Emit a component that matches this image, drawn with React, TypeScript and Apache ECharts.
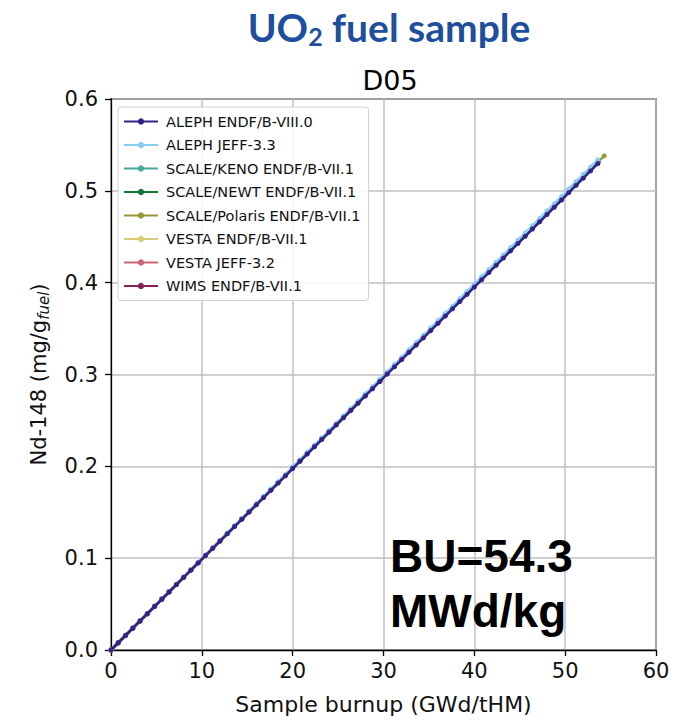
import React, { useEffect, useRef } from "react";
import * as echarts from "echarts";

const burnup = [
  0, 0.8, 1.6, 2.4, 3.2, 4.0, 4.8, 5.6, 6.4, 7.2, 8.0, 8.8, 9.6, 10.4, 11.2, 12.0,
  12.8, 13.6, 14.4, 15.2, 16.0, 16.8, 17.6, 18.4, 19.2, 20.0, 20.8, 21.6, 22.4, 23.2,
  24.0, 24.8, 25.6, 26.4, 27.2, 28.0, 28.8, 29.6, 30.4, 31.2, 32.0, 32.8, 33.6, 34.4,
  35.2, 36.0, 36.8, 37.6, 38.4, 39.2, 40.0, 40.8, 41.6, 42.4, 43.2, 44.0, 44.8, 45.6,
  46.4, 47.2, 48.0, 48.8, 49.6, 50.4, 51.2, 52.0, 52.8, 53.6,
];

const burnupPolaris = [
  0, 0.8, 1.6, 2.4, 3.2, 4.0, 4.8, 5.6, 6.4, 7.2, 8.0, 8.8, 9.6, 10.4, 11.2, 12.0,
  12.8, 13.6, 14.4, 15.2, 16.0, 16.8, 17.6, 18.4, 19.2, 20.0, 20.8, 21.6, 22.4, 23.2,
  24.0, 24.8, 25.6, 26.4, 27.2, 28.0, 28.8, 29.6, 30.4, 31.2, 32.0, 32.8, 33.6, 34.4,
  35.2, 36.0, 36.8, 37.6, 38.4, 39.2, 40.0, 40.8, 41.6, 42.4, 43.2, 44.0, 44.8, 45.6,
  46.4, 47.2, 48.0, 48.8, 49.6, 50.4, 51.2, 52.0, 52.8, 53.6, 54.3,
];

const ndLow = [
  0, 0.0079, 0.0158, 0.0237, 0.0316, 0.0395, 0.0474, 0.0553, 0.0632, 0.0711, 0.079,
  0.0869, 0.0948, 0.1028, 0.1107, 0.1186, 0.1265, 0.1344, 0.1423, 0.1502, 0.1581,
  0.166, 0.1739, 0.1818, 0.1897, 0.1976, 0.2055, 0.2134, 0.2213, 0.2292, 0.2371,
  0.245, 0.2529, 0.2608, 0.2687, 0.2766, 0.2845, 0.2924, 0.3004, 0.3083, 0.3162,
  0.3241, 0.332, 0.3399, 0.3478, 0.3557, 0.3636, 0.3715, 0.3794, 0.3873, 0.3952,
  0.4031, 0.411, 0.4189, 0.4268, 0.4347, 0.4426, 0.4505, 0.4584, 0.4663, 0.4742,
  0.4821, 0.49, 0.498, 0.5059, 0.5138, 0.5217, 0.5296,
];

const ndMid = [
  0, 0.0079, 0.0159, 0.0238, 0.0317, 0.0396, 0.0476, 0.0555, 0.0634, 0.0714, 0.0793,
  0.0872, 0.0951, 0.1031, 0.111, 0.1189, 0.1268, 0.1348, 0.1427, 0.1506, 0.1586,
  0.1665, 0.1744, 0.1823, 0.1903, 0.1982, 0.2061, 0.2141, 0.222, 0.2299, 0.2378,
  0.2458, 0.2537, 0.2616, 0.2696, 0.2775, 0.2854, 0.2933, 0.3013, 0.3092, 0.3171,
  0.325, 0.333, 0.3409, 0.3488, 0.3568, 0.3647, 0.3726, 0.3805, 0.3885, 0.3964,
  0.4043, 0.4123, 0.4202, 0.4281, 0.436, 0.444, 0.4519, 0.4598, 0.4678, 0.4757,
  0.4836, 0.4915, 0.4995, 0.5074, 0.5153, 0.5232, 0.5312, 0.5381,
];

const ndHigh = [
  0, 0.008, 0.0159, 0.0239, 0.0319, 0.0398, 0.0478, 0.0558, 0.0637, 0.0717, 0.0797,
  0.0876, 0.0956, 0.1036, 0.1116, 0.1195, 0.1275, 0.1355, 0.1434, 0.1514, 0.1594,
  0.1673, 0.1753, 0.1833, 0.1912, 0.1992, 0.2072, 0.2151, 0.2231, 0.2311, 0.239,
  0.247, 0.255, 0.2629, 0.2709, 0.2789, 0.2868, 0.2948, 0.3028, 0.3108, 0.3187,
  0.3267, 0.3347, 0.3426, 0.3506, 0.3586, 0.3665, 0.3745, 0.3825, 0.3904, 0.3984,
  0.4064, 0.4143, 0.4223, 0.4303, 0.4382, 0.4462, 0.4542, 0.4621, 0.4701, 0.4781,
  0.486, 0.494, 0.502, 0.51, 0.5179, 0.5259, 0.5339,
];

const seriesNames = [
  "ALEPH ENDF/B-VIII.0",
  "ALEPH JEFF-3.3",
  "SCALE/KENO ENDF/B-VII.1",
  "SCALE/NEWT ENDF/B-VII.1",
  "SCALE/Polaris ENDF/B-VII.1",
  "VESTA ENDF/B-VII.1",
  "VESTA JEFF-3.2",
  "WIMS ENDF/B-VII.1",
];

const seriesColors = [
  "#332288",
  "#88CCEE",
  "#44AA99",
  "#117733",
  "#999933",
  "#DDCC77",
  "#CC6677",
  "#882255",
];

const seriesX = [burnup, burnup, burnup, burnup, burnupPolaris, burnup, burnup, burnup];
const seriesY = [ndLow, ndHigh, ndMid, ndMid, ndMid, ndMid, ndMid, ndMid];
// drawing order: the two ALEPH curves sit on top of the others
const seriesZ = [5, 4, 2, 2, 2, 2, 2, 2];

const FONT = "DejaVu Sans";

export default function App() {
  const ref = useRef<HTMLDivElement>(null);
  useEffect(() => {
    document.body.style.margin = "0";
    const chart = echarts.init(ref.current!, null, { renderer: "svg" });
    const series = seriesNames.map((name, i) => ({
      name,
      type: "line",
      z: seriesZ[i],
      data: seriesX[i].map((x, j) => [x, seriesY[i][j]]),
      symbol: "circle",
      symbolSize: 5,
      showSymbol: true,
      lineStyle: { color: seriesColors[i], width: 2.5 },
      itemStyle: { color: seriesColors[i] },
      emphasis: { disabled: true },
    }));
    chart.setOption({
      animation: false,
      backgroundColor: "#ffffff",
      title: [
        {
          text: "{a|UO}{s|2}{a| fuel sample}",
          left: 384,
          textAlign: "center",
          top: 1,
          textStyle: {
            rich: {
              a: { fontFamily: "Lato", fontWeight: "bold", fontSize: 39, color: "#1d4f9c" },
              s: {
                fontFamily: "Lato",
                fontWeight: "bold",
                fontSize: 25,
                color: "#1d4f9c",
                verticalAlign: "bottom",
                padding: [17, 0, 0, 0],
              },
            },
          },
        },
        {
          text: "D05",
          left: 385,
          textAlign: "center",
          top: 62,
          textStyle: { fontFamily: FONT, fontWeight: "normal", fontSize: 27, color: "#000" },
        },
      ],
      grid: {
        left: 111,
        right: 24,
        top: 99,
        bottom: 65,
        show: true,
        borderColor: "#000",
        borderWidth: 1.3,
        backgroundColor: "transparent",
      },
      legend: {
        orient: "vertical",
        left: 118,
        top: 107,
        padding: [7, 8, 7, 5],
        itemWidth: 34,
        itemHeight: 8,
        itemGap: 8.5,
        backgroundColor: "rgba(255,255,255,0.85)",
        borderColor: "#d0d0d0",
        borderWidth: 1,
        borderRadius: 3,
        textStyle: {
          fontFamily: FONT,
          fontSize: 14.5,
          lineHeight: 15,
          color: "#111",
          padding: [0, 0, 0, 3],
        },
        data: seriesNames,
      },
      xAxis: {
        type: "value",
        min: 0,
        max: 60,
        interval: 10,
        name: "Sample burnup (GWd/tHM)",
        nameLocation: "middle",
        nameGap: 43,
        nameTextStyle: { fontFamily: FONT, fontSize: 22, color: "#111" },
        axisLine: { show: true, lineStyle: { color: "#000", width: 1.3 } },
        axisTick: { show: true, length: 6, inside: false, lineStyle: { color: "#000", width: 1.3 } },
        axisLabel: { fontFamily: FONT, fontSize: 21, color: "#111", margin: 10 },
        splitLine: { show: true, lineStyle: { color: "#c0c0c0", width: 1.5 } },
      },
      yAxis: {
        type: "value",
        min: 0,
        max: 0.6,
        interval: 0.1,
        name: "Nd-148 (mg/g{sub|fuel})",
        nameLocation: "middle",
        nameRotate: 90,
        nameGap: 60,
        nameTextStyle: {
          fontFamily: FONT,
          fontSize: 21,
          color: "#111",
          rich: {
            sub: {
              fontFamily: FONT,
              fontSize: 15,
              fontStyle: "italic",
              color: "#111",
              verticalAlign: "bottom",
              padding: [9, 0, 0, 0],
            },
          },
        },
        axisLine: { show: true, lineStyle: { color: "#000", width: 1.3 } },
        axisTick: { show: true, length: 6, inside: false, lineStyle: { color: "#000", width: 1.3 } },
        axisLabel: {
          fontFamily: FONT,
          fontSize: 21,
          color: "#111",
          margin: 13,
          formatter: (v: number) => v.toFixed(1),
        },
        splitLine: { show: true, lineStyle: { color: "#c0c0c0", width: 1.5 } },
      },
      graphic: [
        {
          type: "text",
          left: 390,
          top: 528,
          style: {
            text: "BU=54.3\nMWd/kg",
            fontFamily: "Liberation Sans",
            fontWeight: "bold",
            fontSize: 46,
            lineHeight: 55,
            fill: "#000",
          },
          z: 100,
        },
      ],
      series,
    });
    return () => chart.dispose();
  }, []);
  return <div ref={ref} style={{ width: 680, height: 720 }} />;
}
